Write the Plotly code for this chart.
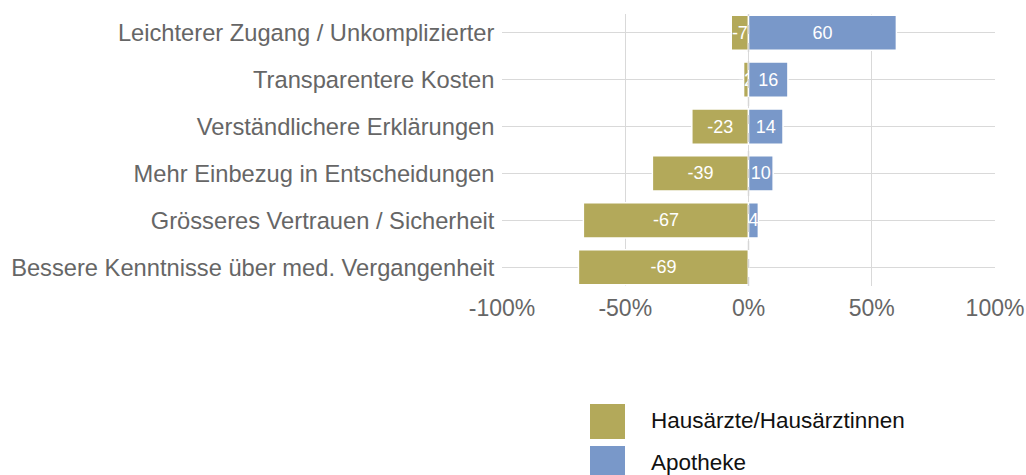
import plotly.graph_objects as go

categories = [
    "Leichterer Zugang / Unkomplizierter",
    "Transparentere Kosten",
    "Verständlichere Erklärungen",
    "Mehr Einbezug in Entscheidungen",
    "Grösseres Vertrauen / Sicherheit",
    "Bessere Kenntnisse über med. Vergangenheit",
]
hausaerzte = [-7, -2, -23, -39, -67, -69]
apotheke = [60, 16, 14, 10, 4, 0]
series_names = ["Hausärzte/Hausärztinnen", "Apotheke"]
tick_vals = [-100, -50, 0, 50, 100]
tick_text = ["-100%", "-50%", "0%", "50%", "100%"]

COL_H = "#B3A95A"
COL_A = "#7998C9"
FONT = "Liberation Sans, Arial, sans-serif"

W, H = 1026, 475
L, R, T = 502, 31, 14
B = H - 286
pw, ph = W - L - R, H - T - B


def px2paper(x, y):
    return (x - L) / pw, (H - B - y) / ph


def lbl(vals):
    return [str(v) if v != 0 else "" for v in vals]


fig = go.Figure()
for name, vals, col in [(series_names[0], hausaerzte, COL_H), (series_names[1], apotheke, COL_A)]:
    fig.add_trace(go.Bar(
        y=categories, x=vals, name=name, orientation="h",
        marker=dict(color=col, line=dict(color="white", width=1.5)),
        text=lbl(vals), textposition="inside", insidetextanchor="middle",
        constraintext="none", textangle=0,
        textfont=dict(color="white", size=18, family=FONT),
        showlegend=False, hoverinfo="x+y",
    ))

fig.add_vline(x=0, line=dict(color="#d6d6d6", width=1.5, dash="dash"), layer="above")

# custom legend
for i, (name, col) in enumerate(zip(series_names, [COL_H, COL_A])):
    y0 = 404 + i * 42
    x0p, y0p = px2paper(590, y0)
    x1p, y1p = px2paper(625, y0 + 35)
    fig.add_shape(type="rect", xref="paper", yref="paper", x0=x0p, x1=x1p, y0=y1p, y1=y0p,
                  fillcolor=col, line=dict(width=0))
    tx, ty = px2paper(649, y0 + 16.5)
    fig.add_annotation(xref="paper", yref="paper", x=tx, y=ty, text=name, showarrow=False,
                       xanchor="left", yanchor="middle",
                       font=dict(size=22.5, color="#111111", family=FONT))

fig.update_layout(
    width=W, height=H,
    margin=dict(l=L, r=R, t=T, b=B, autoexpand=False),
    barmode="relative", bargap=0.25,
    plot_bgcolor="white", paper_bgcolor="white",
    font=dict(family=FONT, size=23, color="#666666"),
    xaxis=dict(range=[-100, 100], tickvals=tick_vals, ticktext=tick_text,
               showgrid=True, gridcolor="#d9d9d9", gridwidth=1, zeroline=False,
               showline=False, ticks="", fixedrange=True, ticklabelstandoff=6,
               tickfont=dict(size=23, color="#666666")),
    yaxis=dict(categoryorder="array", categoryarray=categories,
               range=[5.4, -0.4], showgrid=True, gridcolor="#d9d9d9", gridwidth=1,
               zeroline=False, showline=False, ticks="", ticksuffix=" ",
               tickfont=dict(size=23.7, color="#666666")),
)

fig.write_html(
    "out.html",
    config={"displayModeBar": False},
    post_script="document.body.style.margin='0';document.documentElement.style.overflow='hidden';",
)
